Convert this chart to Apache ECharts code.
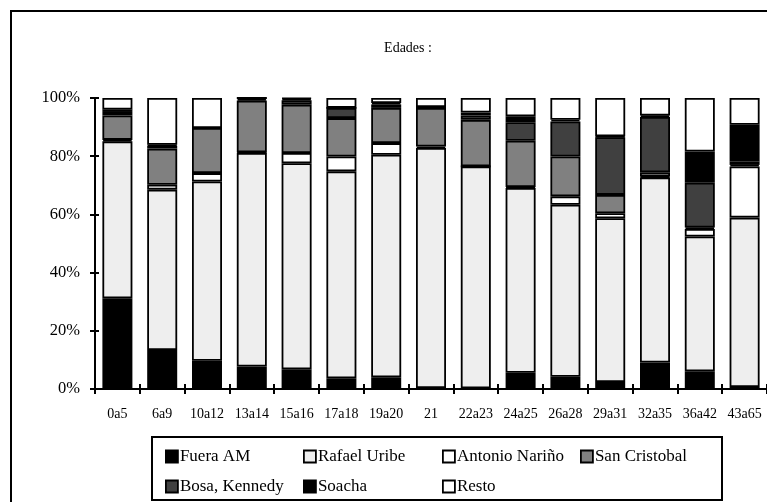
<!DOCTYPE html>
<html>
<head>
<meta charset="utf-8">
<script src="https://cdn.jsdelivr.net/npm/echarts@6/dist/echarts.min.js"></script>
<style>html,body{margin:0;padding:0;background:#fff;}#c{width:767px;height:502px;}</style>
</head>
<body>
<div id="c"></div>
<script>
var categories = ['0a5','6a9','10a12','13a14','15a16','17a18','19a20','21','22a23','24a25','26a28','29a31','32a35','36a42','43a65'];
var yTicks = [0, 20, 40, 60, 80, 100];
var fueraAM      = [31.2, 13.4, 9.7, 7.7, 6.8, 3.7, 4.0, 0.3, 0.2, 5.6, 4.2, 2.4, 9.1, 6.1, 0.7];
var rafaelUribe  = [53.9, 55.1, 61.6, 73.4, 70.8, 71.1, 76.5, 82.5, 76.3, 63.5, 59.1, 56.3, 63.6, 46.3, 58.2];
var antonioNarino= [0.5, 1.7, 2.9, 0.2, 3.5, 5.1, 4.0, 0.5, 0, 0.3, 2.9, 1.7, 0.3, 2.6, 17.6];
var sanCristobal = [8.4, 12.4, 15.5, 17.8, 16.6, 13.2, 12.1, 13.3, 16.0, 15.9, 13.7, 6.3, 1.5, 0.5, 0.5];
var bosaKennedy  = [1.2, 1.0, 0, 0.6, 1.5, 3.5, 1.2, 0.3, 1.5, 6.4, 12.0, 19.8, 19.0, 15.4, 1.2];
var soacha       = [0.8, 0.3, 0, 0.3, 0.5, 0, 0.5, 0, 1.0, 2.0, 0.6, 0.3, 0.5, 10.7, 12.6];
var resto        = [4.0, 16.1, 10.3, 0, 0.3, 3.4, 1.7, 3.1, 5.0, 6.3, 7.5, 13.2, 6.0, 18.4, 9.2];

var seriesNames = ['Fuera AM','Rafael Uribe','Antonio Nariño','San Cristobal','Bosa, Kennedy','Soacha','Resto'];
var seriesData = [fueraAM, rafaelUribe, antonioNarino, sanCristobal, bosaKennedy, soacha, resto];
var seriesColors = ['#000000','#eeeeee','#ffffff','#808080','#404040','#000000','#ffffff'];

var FONT = 'Liberation Serif';
var chart = echarts.init(document.getElementById('c'), null, {renderer:'canvas'});

var series = seriesNames.map(function(n, i){
  return {
    name: n, type: 'bar', stack: 'total', data: seriesData[i],
    barWidth: 30,
    itemStyle: {color: seriesColors[i], borderColor: '#000', borderWidth: 1.8},
    emphasis: {disabled: true},
    animation: false
  };
});

// legend positions (two rows, four columns)
var legPos = [[165,448],[303,448],[442,448],[580,448],[165,478],[303,478],[442,478]];
var legends = seriesNames.map(function(n, i){
  return {
    data: [n], left: legPos[i][0], top: legPos[i][1],
    icon: 'rect', itemWidth: 12, itemHeight: 12, itemGap: 0, padding: 0,
    selectedMode: false,
    textStyle: {fontFamily: FONT, fontSize: 17, color: '#000', padding: [0,0,0,-3]},
    itemStyle: {borderColor: '#000', borderWidth: 1.8}
  };
});

chart.setOption({
  backgroundColor: '#fff',
  animation: false,
  title: {text: 'Edades :', left: 403, top: 36, textAlign: 'center',
          textStyle: {fontFamily: FONT, fontSize: 14, fontWeight: 'normal', color: '#000'}},
  graphic: [
    {type: 'rect', shape: {x: 11, y: 11, width: 800, height: 600}, style: {fill: 'none', stroke: '#000', lineWidth: 2}, silent: true},
    {type: 'rect', shape: {x: 152, y: 437, width: 570, height: 63}, style: {fill: 'none', stroke: '#000', lineWidth: 2}, silent: true}
  ],
  legend: legends,
  grid: {left: 95, top: 98, width: 675, height: 291, containLabel: false},
  xAxis: [
    {type: 'category', data: categories, gridIndex: 0,
     axisLine: {lineStyle: {color: '#000', width: 2}},
     axisTick: {show: true, length: 5, lineStyle: {color: '#000', width: 2}},
     axisLabel: {fontFamily: FONT, fontSize: 14, color: '#000', margin: 18, interval: 0}},
    {type: 'category', data: categories, gridIndex: 0, position: 'bottom',
     axisLine: {show: false},
     axisTick: {show: true, inside: true, length: 5, lineStyle: {color: '#000', width: 2}},
     axisLabel: {show: false}}
  ],
  yAxis: [
    {type: 'value', min: 0, max: 100, interval: 20, gridIndex: 0,
     axisLine: {show: true, lineStyle: {color: '#000', width: 2}},
     axisTick: {show: true, length: 5, lineStyle: {color: '#000', width: 2}},
     splitLine: {show: false},
     axisLabel: {fontFamily: FONT, fontSize: 16.5, color: '#000', margin: 15,
       formatter: function(v){ return yTicks.indexOf(v) >= 0 ? v + '%' : ''; }}},
    {type: 'value', min: 0, max: 100, interval: 20, gridIndex: 0, position: 'left',
     axisLine: {show: false},
     axisTick: {show: true, inside: true, length: 4, lineStyle: {color: '#000', width: 2}},
     splitLine: {show: false}, axisLabel: {show: false}}
  ],
  series: series
});
</script>
</body>
</html>
